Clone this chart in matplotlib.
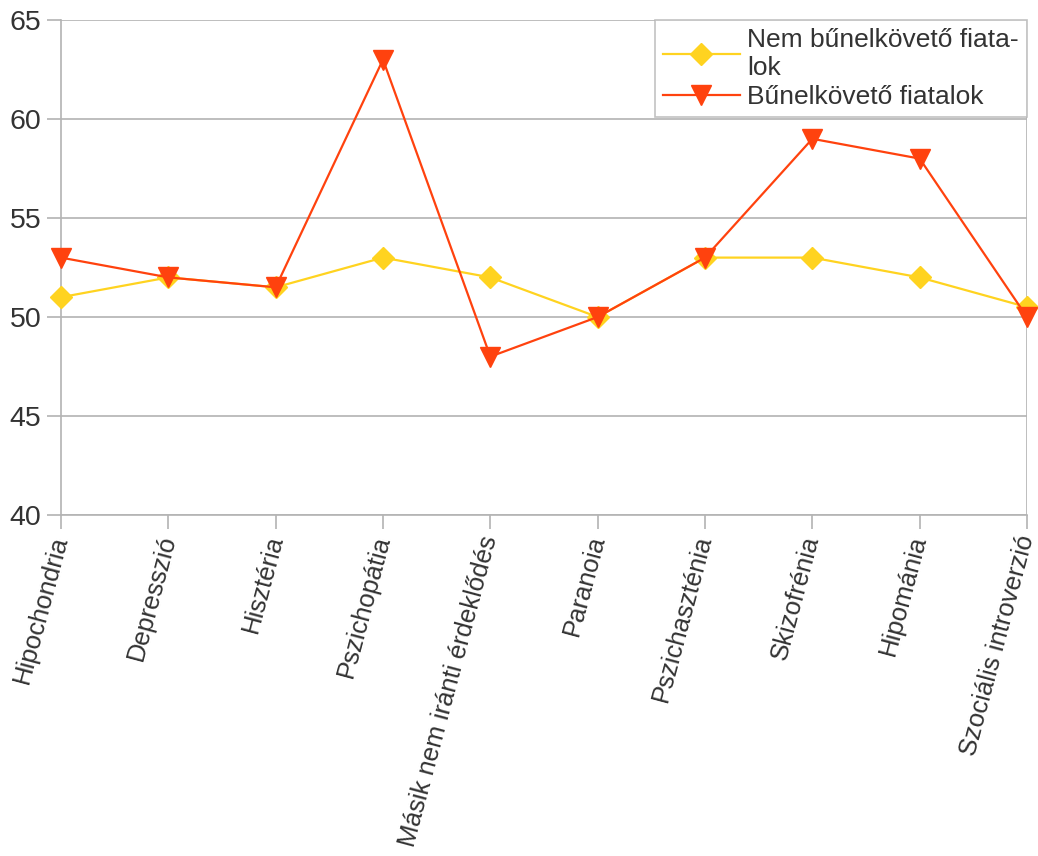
import numpy as np
import matplotlib.pyplot as plt

plt.rcParams['font.family'] = ['Liberation Sans', 'DejaVu Sans']

categories = ["Hipochondria", "Depresszió", "Hisztéria", "Pszichopátia",
              "Másik nem iránti érdeklődés", "Paranoia", "Pszichaszténia",
              "Skizofrénia", "Hipománia", "Szociális introverzió"]
nem_bunelkoveto = [51, 52, 51.5, 53, 52, 50, 53, 53, 52, 50.5]
bunelkoveto = [53, 52, 51.5, 63, 48, 50, 53, 59, 58, 50]

grid_c = "#b3b3b3"
text_c = "#333333"

fig = plt.figure(figsize=(10.38, 8.56), dpi=100)
ax = fig.add_axes([61 / 1038, 1 - 515 / 856, (1027 - 61) / 1038, (515 - 20) / 856])

x = np.arange(len(categories))
ax.plot(x, nem_bunelkoveto, color="#ffd320", marker="D", markersize=11,
        linewidth=1.6, label="Nem bűnelkövető fiata-\nlok", clip_on=False, zorder=3)
ax.plot(x, bunelkoveto, color="#ff420e", marker="v", markersize=15,
        linewidth=1.6, label="Bűnelkövető fiatalok", clip_on=False, zorder=4)

ax.set_xlim(0, len(categories) - 1)
ax.set_ylim(40, 65)
ax.set_yticks([40, 45, 50, 55, 60, 65])
ax.grid(axis="y", color=grid_c, linewidth=1.2)
ax.set_axisbelow(True)

for side in ["top", "right"]:
    ax.spines[side].set_visible(False)
for side in ["left", "bottom"]:
    ax.spines[side].set_color(grid_c)
    ax.spines[side].set_linewidth(1.2)

ax.set_xticks(x)
ax.set_xticklabels(categories, rotation=75, ha="right", va="center",
                   rotation_mode="anchor", fontsize=18.5, color=text_c)
ax.tick_params(axis="both", color=grid_c, length=10, width=1.2, labelcolor=text_c)
ax.tick_params(axis="y", labelsize=20.5, pad=4)
ax.tick_params(axis="x", pad=5)

# right edge line
ax.axvline(len(categories) - 1, color=grid_c, linewidth=1.2, zorder=0)

leg = ax.legend(loc="upper right", fontsize=19, frameon=True, fancybox=False,
                edgecolor=grid_c, borderaxespad=0, handlelength=2.9,
                labelspacing=0.2, borderpad=0.3, handletextpad=0.3,
                bbox_to_anchor=(1.0, 1.0))
leg.get_frame().set_linewidth(1.2)
for t in leg.get_texts():
    t.set_color(text_c)

fig.savefig("out.png", dpi=100)
